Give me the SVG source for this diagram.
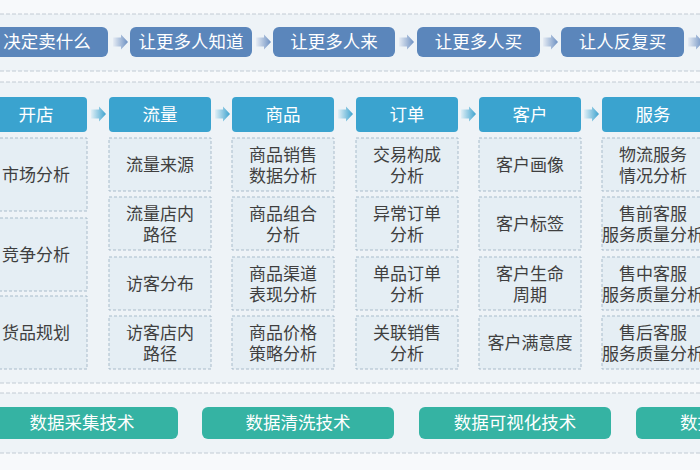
<svg xmlns="http://www.w3.org/2000/svg" width="700" height="470" viewBox="0 0 700 470">
<defs>
<linearGradient id="gTop" x1="0" y1="0" x2="1" y2="0">
<stop offset="0" stop-color="#e6ecf4"/><stop offset="1" stop-color="#6d90c2"/>
</linearGradient>
<linearGradient id="gHead" x1="0" y1="0" x2="1" y2="0">
<stop offset="0" stop-color="#e0eff6"/><stop offset="1" stop-color="#3ea3cf"/>
</linearGradient>
<path id="arrTop" d="M0,-4.5 H8 V-7.5 L15,0 L8,7.5 V4.5 H0 Z" fill="url(#gTop)"/>
<path id="arrHead" d="M0,-4.5 H8 V-7.5 L15,0 L8,7.5 V4.5 H0 Z" fill="url(#gHead)"/>
</defs>
<style>
text{font-family:"Noto Sans CJK SC","Noto Sans",sans-serif;font-size:17px;text-anchor:middle}
.band{fill:#eef3f7}
.sep{stroke:#c2cbd4;stroke-width:1;stroke-dasharray:4 2;fill:none}
.top rect{fill:#5b86bb}
.top text{fill:#ffffff;font-size:17.5px}
.head rect{fill:#3aa3cf}
.head text{fill:#ffffff;font-size:17.5px}
.sub rect{fill:#e5eef4;stroke:#a9bccb;stroke-width:1;stroke-dasharray:3 2}
.sub text{fill:#3f3f3f}
.tech rect{fill:#35b3a3}
.tech text{fill:#ffffff;font-size:17.5px}
</style>
<rect x="0" y="0" width="700" height="470" fill="#f7f9fb"/>
<rect class="band" x="0" y="14" width="700" height="57"/>
<rect class="band" x="0" y="82" width="700" height="301"/>
<rect class="band" x="0" y="393" width="700" height="60"/>
<g id="separators">
<line class="sep" x1="0" y1="14" x2="700" y2="14"/>
<line class="sep" x1="0" y1="71" x2="700" y2="71"/>
<line class="sep" x1="0" y1="82" x2="700" y2="82"/>
<line class="sep" x1="0" y1="383" x2="700" y2="383"/>
<line class="sep" x1="0" y1="393" x2="700" y2="393"/>
<line class="sep" x1="0" y1="453" x2="700" y2="453"/>
</g>

<g id="top-row" class="top">
<g id="t1"><rect x="-14" y="27" width="122" height="30" rx="6"/><text x="47" y="48">决定卖什么</text></g>
<g id="t2"><rect x="130" y="27" width="122" height="30" rx="6"/><text x="191" y="48">让更多人知道</text></g>
<g id="t3"><rect x="273" y="27" width="122" height="30" rx="6"/><text x="334" y="48">让更多人来</text></g>
<g id="t4"><rect x="417" y="27" width="123" height="30" rx="6"/><text x="478.5" y="48">让更多人买</text></g>
<g id="t5"><rect x="561" y="27" width="123" height="30" rx="6"/><text x="622.5" y="48">让人反复买</text></g>
</g>

<g id="headers" class="head">
<g id="h1"><rect x="-15" y="97" width="102" height="35" rx="4"/><text x="36" y="121">开店</text></g>
<g id="h2"><rect x="109" y="97" width="102" height="35" rx="4"/><text x="160" y="121">流量</text></g>
<g id="h3"><rect x="232" y="97" width="102" height="35" rx="4"/><text x="283" y="121">商品</text></g>
<g id="h4"><rect x="356" y="97" width="102" height="35" rx="4"/><text x="407" y="121">订单</text></g>
<g id="h5"><rect x="479" y="97" width="102" height="35" rx="4"/><text x="530" y="121">客户</text></g>
<g id="h6"><rect x="602" y="97" width="102" height="35" rx="4"/><text x="653" y="121">服务</text></g>
</g>

<g id="connectors">
<use href="#arrTop" x="113" y="42"/>
<use href="#arrTop" x="256" y="42"/>
<use href="#arrTop" x="399" y="42"/>
<use href="#arrTop" x="543" y="42"/>
<use href="#arrTop" x="688" y="42"/>
<use href="#arrHead" x="91" y="114"/>
<use href="#arrHead" x="215" y="114"/>
<use href="#arrHead" x="338" y="114"/>
<use href="#arrHead" x="461" y="114"/>
<use href="#arrHead" x="584" y="114"/>
</g>

<g id="col-kaidian" class="sub">
<g id="s1-1"><rect x="-15" y="138" width="102" height="73"/><text x="36" y="181">市场分析</text></g>
<g id="s1-2"><rect x="-15" y="218" width="102" height="73"/><text x="36" y="261">竞争分析</text></g>
<g id="s1-3"><rect x="-15" y="296" width="102" height="73"/><text x="36" y="339">货品规划</text></g>
</g>

<g id="col-liuliang" class="sub">
<g id="s2-1"><rect x="109" y="138" width="102" height="53"/><text x="160" y="171">流量来源</text></g>
<g id="s2-2"><rect x="109" y="197" width="102" height="53"/><text x="160" y="220">流量店内</text><text x="160" y="241">路径</text></g>
<g id="s2-3"><rect x="109" y="257" width="102" height="53"/><text x="160" y="290">访客分布</text></g>
<g id="s2-4"><rect x="109" y="316" width="102" height="53"/><text x="160" y="339">访客店内</text><text x="160" y="360">路径</text></g>
</g>

<g id="col-shangpin" class="sub">
<g id="s3-1"><rect x="232" y="138" width="102" height="53"/><text x="283" y="161">商品销售</text><text x="283" y="182">数据分析</text></g>
<g id="s3-2"><rect x="232" y="197" width="102" height="53"/><text x="283" y="220">商品组合</text><text x="283" y="241">分析</text></g>
<g id="s3-3"><rect x="232" y="257" width="102" height="53"/><text x="283" y="280">商品渠道</text><text x="283" y="301">表现分析</text></g>
<g id="s3-4"><rect x="232" y="316" width="102" height="53"/><text x="283" y="339">商品价格</text><text x="283" y="360">策略分析</text></g>
</g>

<g id="col-dingdan" class="sub">
<g id="s4-1"><rect x="356" y="138" width="102" height="53"/><text x="407" y="161">交易构成</text><text x="407" y="182">分析</text></g>
<g id="s4-2"><rect x="356" y="197" width="102" height="53"/><text x="407" y="220">异常订单</text><text x="407" y="241">分析</text></g>
<g id="s4-3"><rect x="356" y="257" width="102" height="53"/><text x="407" y="280">单品订单</text><text x="407" y="301">分析</text></g>
<g id="s4-4"><rect x="356" y="316" width="102" height="53"/><text x="407" y="339">关联销售</text><text x="407" y="360">分析</text></g>
</g>

<g id="col-kehu" class="sub">
<g id="s5-1"><rect x="479" y="138" width="102" height="53"/><text x="530" y="171">客户画像</text></g>
<g id="s5-2"><rect x="479" y="197" width="102" height="53"/><text x="530" y="230">客户标签</text></g>
<g id="s5-3"><rect x="479" y="257" width="102" height="53"/><text x="530" y="280">客户生命</text><text x="530" y="301">周期</text></g>
<g id="s5-4"><rect x="479" y="316" width="102" height="53"/><text x="530" y="349">客户满意度</text></g>
</g>

<g id="col-fuwu" class="sub">
<g id="s6-1"><rect x="602" y="138" width="102" height="53"/><text x="653" y="161">物流服务</text><text x="653" y="182">情况分析</text></g>
<g id="s6-2"><rect x="602" y="197" width="102" height="53"/><text x="653" y="220">售前客服</text><text x="653" y="241">服务质量分析</text></g>
<g id="s6-3"><rect x="602" y="257" width="102" height="53"/><text x="653" y="280">售中客服</text><text x="653" y="301">服务质量分析</text></g>
<g id="s6-4"><rect x="602" y="316" width="102" height="53"/><text x="653" y="339">售后客服</text><text x="653" y="360">服务质量分析</text></g>
</g>

<g id="tech-row" class="tech">
<g id="k1"><rect x="-14" y="407" width="192" height="32" rx="6"/><text x="82" y="429">数据采集技术</text></g>
<g id="k2"><rect x="202" y="407" width="192" height="32" rx="6"/><text x="298" y="429">数据清洗技术</text></g>
<g id="k3"><rect x="419" y="407" width="192" height="32" rx="6"/><text x="515" y="429">数据可视化技术</text></g>
<g id="k4"><rect x="636" y="407" width="192" height="32" rx="6"/><text x="680" y="429" style="text-anchor:start">数据</text></g>
</g>
</svg>
